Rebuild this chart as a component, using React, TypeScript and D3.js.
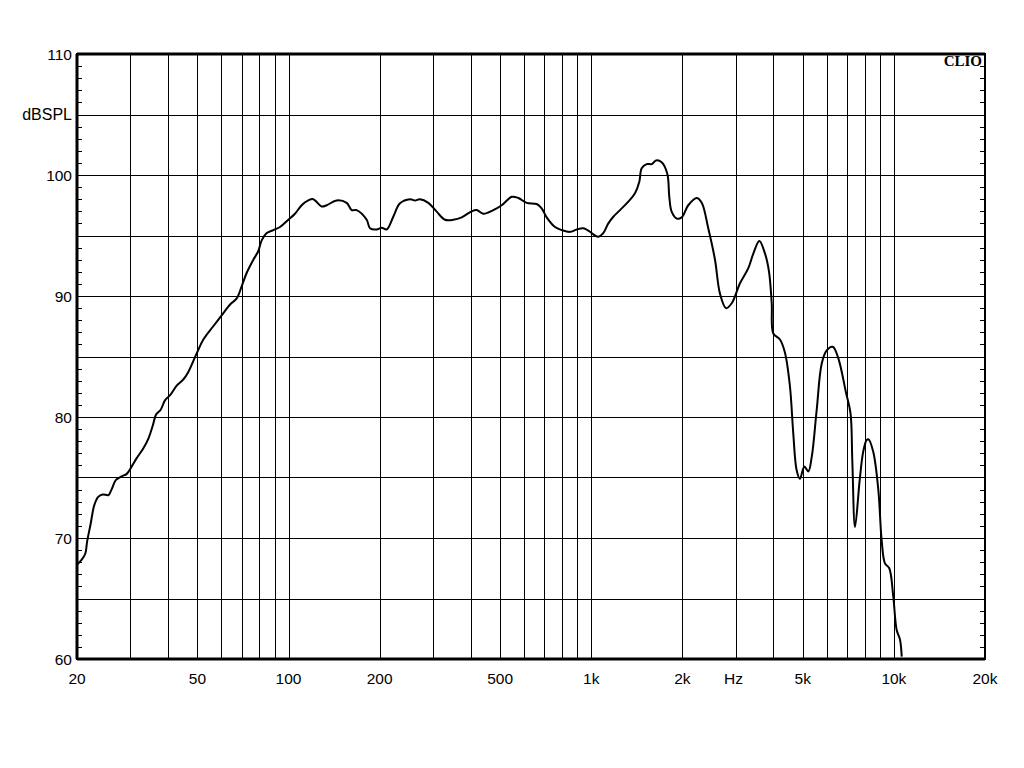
import React from "react";
import * as d3 from "d3";

const freqHz: number[] = [
  20, 20.7, 21.3, 21.6, 22.2, 22.8, 23.5, 24.3, 25.4, 26.0, 26.9, 28.1, 29.2, 30.3, 31.5, 33.1, 34.4,
  35.6, 36.5, 37.8, 39.1, 40.6, 42.7, 44.9, 46.6, 49.8, 52.3, 56.4, 60.1, 64.1, 67.4, 70.0, 72.7,
  76.5, 79.4, 81.5, 84.7, 89.1, 93.7, 99.8, 105, 110.5, 116.2, 120.7, 128.7, 133.7, 144.2, 155.6,
  161.7, 167.9, 181.2, 185.8, 195.5, 203.1, 211, 221.8, 233.4, 252, 261.6, 271.8, 289.6, 308.6,
  328.9, 350.2, 373.3, 402.8, 418.4, 440, 474.8, 506.2, 546.2, 574.2, 612, 660.4, 686, 712.6,
  759.2, 798.8, 851, 895.4, 941.6, 978, 1029, 1055, 1096, 1139, 1183, 1245, 1326, 1395, 1442,
  1468, 1525, 1584, 1637, 1709, 1784, 1811, 1844, 1916, 1990, 2092, 2230, 2318, 2436, 2564,
  2663, 2789, 2912, 3101, 3304, 3432, 3593, 3752, 3868, 3948, 3996, 4204, 4367, 4536, 4651,
  4772, 4893, 5058, 5216, 5353, 5559, 5774, 5998, 6280, 6553, 6948, 7190, 7288, 7440, 7710,
  7914, 8130, 8250, 8550, 8882, 9112, 9344, 9654, 9954, 10214, 10476, 10614,
];

const splDb: number[] = [
  67.8, 68.2, 68.7, 69.7, 71.2, 72.7, 73.4, 73.6, 73.55, 74.0, 74.8, 75.1, 75.3, 75.9, 76.6, 77.4, 78.2,
  79.3, 80.2, 80.6, 81.4, 81.8, 82.6, 83.1, 83.7, 85.3, 86.4, 87.5, 88.4, 89.3, 89.8, 90.8, 91.9,
  93.0, 93.7, 94.6, 95.2, 95.45, 95.7, 96.3, 96.8, 97.5, 97.9, 98.0, 97.4, 97.5, 97.9, 97.7,
  97.1, 97.1, 96.3, 95.6, 95.5, 95.65, 95.5, 96.55, 97.66, 98.0, 97.9, 98.0, 97.7, 96.97,
  96.3, 96.3, 96.5, 97.0, 97.1, 96.8, 97.1, 97.5, 98.2, 98.1, 97.7, 97.6, 97.25, 96.5,
  95.7, 95.45, 95.3, 95.5, 95.6, 95.4, 95.0, 94.9, 95.2, 96.0, 96.55, 97.1, 97.8, 98.5, 99.45,
  100.55, 100.9, 100.9, 101.2, 101.05, 100.1, 98.2, 96.97, 96.4, 96.5, 97.5, 98.1, 97.7, 95.6, 93.0,
  90.2, 89.0, 89.4, 91.05, 92.3, 93.5, 94.55, 93.5, 92.0, 89.4, 86.9, 86.4, 85.3, 82.5, 78.65,
  75.6, 74.9, 75.9, 75.5, 76.7, 80.6, 84.4, 85.5, 85.8, 84.85, 82.0, 80.3, 76.4, 70.9, 74.8,
  77.1, 78.1, 78.15, 77.1, 74.0, 69.8, 67.9, 67.5, 65.15, 62.4, 61.6, 60.2,
];

const yLabels: { v: number; t: string }[] = [
  { v: 110, t: "110" },
  { v: 105, t: "dBSPL" },
  { v: 100, t: "100" },
  { v: 90, t: "90" },
  { v: 80, t: "80" },
  { v: 70, t: "70" },
  { v: 60, t: "60" },
];

const xLabels: { v: number; t: string }[] = [
  { v: 20, t: "20" },
  { v: 50, t: "50" },
  { v: 100, t: "100" },
  { v: 200, t: "200" },
  { v: 500, t: "500" },
  { v: 1000, t: "1k" },
  { v: 2000, t: "2k" },
  { v: 2950, t: "Hz" },
  { v: 5000, t: "5k" },
  { v: 10000, t: "10k" },
  { v: 20000, t: "20k" },
];

const W = 1024;
const H = 768;
const L = 77;
const R = 985;
const T = 54;
const B = 659;

export default function App() {
  const x = d3.scaleLog().domain([20, 20000]).range([L, R]);
  const y = d3.scaleLinear().domain([60, 110]).range([B, T]);

  const vGrid: number[] = [];
  for (const dec of [10, 100, 1000, 10000]) {
    for (let m = 1; m <= 9; m++) {
      const f = m * dec;
      if (f > 20 && f < 20000) vGrid.push(f);
    }
  }
  const hGrid = d3.range(65, 110, 5);
  const minor = d3.range(61, 110, 1);

  const pts: [number, number][] = freqHz.map((f, i) => [f, splDb[i]]);
  const line = d3
    .line<[number, number]>()
    .x((d) => x(d[0]))
    .y((d) => y(d[1]))
    .curve(d3.curveCatmullRom.alpha(0.5));

  const font = "'Liberation Sans', Arial, sans-serif";

  return (
    <svg
      width={W}
      height={H}
      style={{ position: "absolute", left: 0, top: 0, background: "#fff" }}
    >
      <defs>
        <clipPath id="plotclip">
          <rect x={L} y={T} width={R - L} height={B - T} />
        </clipPath>
      </defs>
      <rect x={0} y={0} width={W} height={H} fill="#fff" />
      {vGrid.map((f) => (
        <line
          key={"v" + f}
          x1={Math.round(x(f)) + 0.5}
          x2={Math.round(x(f)) + 0.5}
          y1={T}
          y2={B}
          stroke="#000"
          strokeWidth={1}
        />
      ))}
      {hGrid.map((v) => (
        <line
          key={"h" + v}
          x1={L}
          x2={R}
          y1={Math.round(y(v)) + 0.5}
          y2={Math.round(y(v)) + 0.5}
          stroke="#000"
          strokeWidth={1}
        />
      ))}
      {minor.map((v) => (
        <g key={"m" + v}>
          <line
            x1={L}
            x2={L + 5}
            y1={Math.round(y(v)) + 0.5}
            y2={Math.round(y(v)) + 0.5}
            stroke="#000"
            strokeWidth={1}
          />
          <line
            x1={R - 5}
            x2={R}
            y1={Math.round(y(v)) + 0.5}
            y2={Math.round(y(v)) + 0.5}
            stroke="#000"
            strokeWidth={1}
          />
        </g>
      ))}
      <path
        d={line(pts) || ""}
        fill="none"
        stroke="#000"
        strokeWidth={2}
        strokeLinejoin="round"
        clipPath="url(#plotclip)"
      />
      <rect x={L} y={T} width={R - L} height={B - T} fill="none" stroke="#000" strokeWidth={2} />
      <line x1={L} x2={R} y1={T} y2={T} stroke="#000" strokeWidth={3} />
      <line x1={L} x2={R} y1={B} y2={B} stroke="#000" strokeWidth={3} />
      <line x1={L} x2={L} y1={T} y2={B} stroke="#000" strokeWidth={3} />
      {yLabels.map((d) => (
        <text
          key={"yl" + d.t}
          x={72}
          y={y(d.v)}
          dy="0.36em"
          textAnchor="end"
          fontFamily={font}
          fontSize={d.t === "dBSPL" ? 16 : 15.5}
          fill="#000"
        >
          {d.t}
        </text>
      ))}
      {xLabels.map((d) => (
        <text
          key={"xl" + d.t}
          x={x(d.v)}
          y={684}
          textAnchor="middle"
          fontFamily={font}
          fontSize={15.5}
          fill="#000"
        >
          {d.t}
        </text>
      ))}
      <text
        x={982}
        y={66}
        textAnchor="end"
        fontFamily="'Liberation Serif', 'Times New Roman', serif"
        fontWeight="bold"
        fontSize={15}
        fill="#000"
      >
        CLIO
      </text>
    </svg>
  );
}
